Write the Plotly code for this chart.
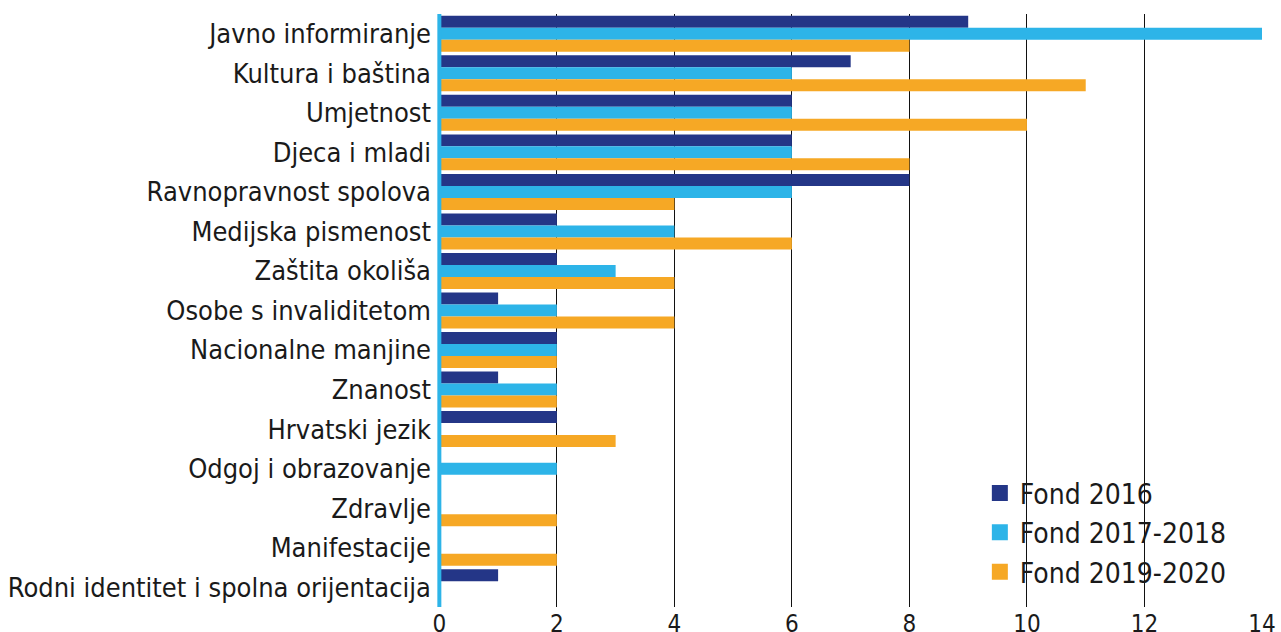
import plotly.graph_objects as go

categories = ["Javno informiranje", "Kultura i baština", "Umjetnost", "Djeca i mladi",
              "Ravnopravnost spolova", "Medijska pismenost", "Zaštita okoliša",
              "Osobe s invaliditetom", "Nacionalne manjine", "Znanost", "Hrvatski jezik",
              "Odgoj i obrazovanje", "Zdravlje", "Manifestacije",
              "Rodni identitet i spolna orijentacija"]
fond_2016 = [9, 7, 6, 6, 8, 2, 2, 1, 2, 1, 2, 0, 0, 0, 1]
fond_2017_2018 = [14, 6, 6, 6, 6, 4, 3, 2, 2, 2, 0, 2, 0, 0, 0]
fond_2019_2020 = [8, 11, 10, 8, 4, 6, 4, 4, 2, 2, 3, 0, 2, 2, 0]
series_names = ["Fond 2016", "Fond 2017-2018", "Fond 2019-2020"]
x_ticks = [0, 2, 4, 6, 8, 10, 12, 14]

colors = ["#243687", "#2DB4E8", "#F6A825"]
FONT = "DejaVu Sans Condensed"

fig = go.Figure()
for name, vals, col in zip(series_names, [fond_2016, fond_2017_2018, fond_2019_2020], colors):
    fig.add_trace(go.Bar(y=categories, x=vals, name=name, orientation="h",
                         marker=dict(color=col, line=dict(width=0)), showlegend=False))
# legend entries with larger square swatches
for name, col in zip(series_names, colors):
    fig.add_trace(go.Scatter(x=[None], y=[None], mode="markers", name=name,
                             marker=dict(symbol="square", size=19, color=col),
                             showlegend=True))

# white box behind legend (hides gridlines there)
fig.add_shape(type="rect", xref="paper", yref="paper", x0=0.664, x1=0.992, y0=0, y1=0.224,
              fillcolor="white", line=dict(width=0), layer="between")
# cyan baseline at zero
fig.add_shape(type="line", xref="x", yref="paper", x0=0, x1=0, y0=0, y1=1,
              line=dict(color="#2DB4E8", width=4), layer="above")

fig.update_layout(
    width=1281, height=632,
    margin=dict(l=437, r=19, t=14, b=25),
    barmode="group", bargap=0.09, bargroupgap=0,
    plot_bgcolor="white", paper_bgcolor="white",
    font=dict(family=FONT, size=27, color="#1a1a1a"),
    showlegend=True,
    legend=dict(x=0.658, y=0.234, xanchor="left", yanchor="top",
                bgcolor="rgba(0,0,0,0)", font=dict(size=28), traceorder="normal",
                tracegroupgap=0, itemsizing="trace"),
    xaxis=dict(range=[-0.04, 14.0], tickvals=x_ticks, showgrid=True,
               gridcolor="#111111", gridwidth=1, zeroline=False, showline=False,
               ticks="", tickfont=dict(size=24), automargin=False),
    yaxis=dict(autorange="reversed", showgrid=False, zeroline=False, showline=False,
               ticks="", ticklabelstandoff=5, tickfont=dict(size=27), automargin=False),
)

fig.write_html("out.html", config={"displayModeBar": False},
               post_script="document.body.style.margin='0';")
